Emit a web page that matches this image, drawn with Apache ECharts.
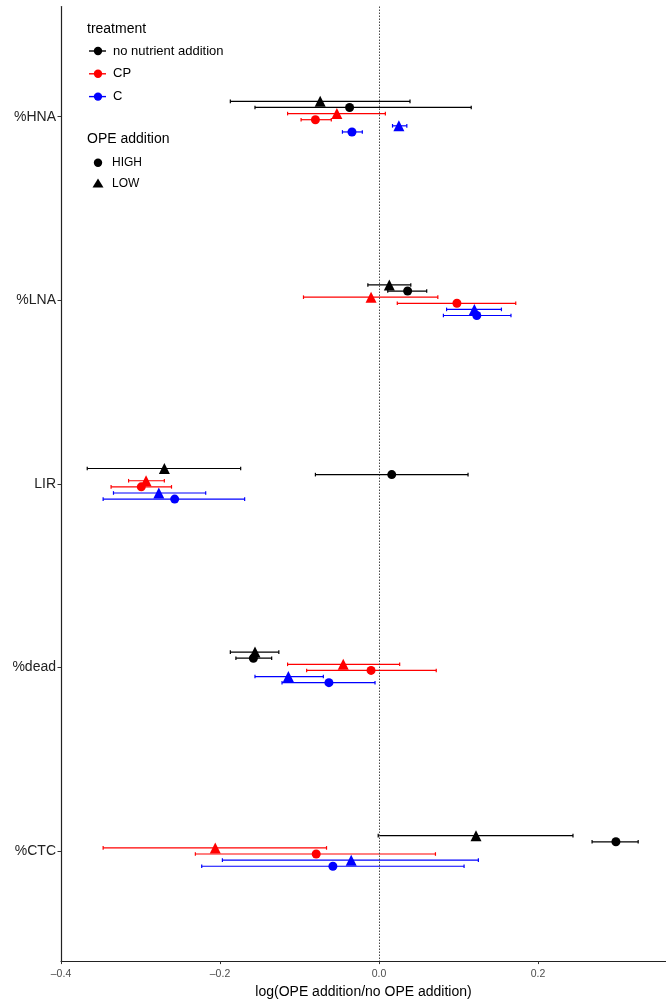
<!DOCTYPE html>
<html>
<head>
<meta charset="utf-8">
<script src="https://cdn.jsdelivr.net/npm/echarts@6/dist/echarts.min.js"></script>
<style>
html,body{margin:0;padding:0;background:#fff;overflow:hidden;}
#chart{width:666px;height:1004px;}
</style>
</head>
<body>
<div id="chart"></div>
<script>
// ---- Data ----
var categories = ['%HNA', '%LNA', 'LIR', '%dead', '%CTC'];
var treatments = ['no nutrient addition', 'CP', 'C'];
var opeLevels = ['HIGH', 'LOW'];
var xTicks = [-0.4, -0.2, 0.0, 0.2];

var noNutLowMean  = [-0.074, 0.013, -0.270, -0.156, 0.122];
var noNutLowLo    = [-0.187, -0.014, -0.367, -0.187, -0.001];
var noNutLowHi    = [0.039, 0.040, -0.174, -0.126, 0.244];
var noNutHighMean = [-0.037, 0.036, 0.016, -0.158, 0.298];
var noNutHighLo   = [-0.156, 0.011, -0.080, -0.180, 0.268];
var noNutHighHi   = [0.116, 0.060, 0.112, -0.135, 0.326];

var cpLowMean  = [-0.053, -0.010, -0.293, -0.045, -0.206];
var cpLowLo    = [-0.115, -0.095, -0.315, -0.115, -0.347];
var cpLowHi    = [0.008, 0.074, -0.270, 0.026, -0.066];
var cpHighMean = [-0.080, 0.098, -0.299, -0.010, -0.079];
var cpHighLo   = [-0.098, 0.023, -0.337, -0.091, -0.231];
var cpHighHi   = [-0.060, 0.172, -0.261, 0.072, 0.071];

var cLowMean  = [0.025, 0.120, -0.277, -0.114, -0.035];
var cLowLo    = [0.017, 0.085, -0.334, -0.156, -0.197];
var cLowHi    = [0.035, 0.154, -0.218, -0.070, 0.125];
var cHighMean = [-0.034, 0.123, -0.257, -0.063, -0.058];
var cHighLo   = [-0.046, 0.081, -0.347, -0.122, -0.223];
var cHighHi   = [-0.021, 0.166, -0.169, -0.005, 0.107];

// ---- Build ----
var colors = {'no nutrient addition': '#000000', 'CP': '#FF0000', 'C': '#0000FF'};
var groups = [
  {t: 'no nutrient addition', o: 'LOW',  m: noNutLowMean,  lo: noNutLowLo,  hi: noNutLowHi},
  {t: 'no nutrient addition', o: 'HIGH', m: noNutHighMean, lo: noNutHighLo, hi: noNutHighHi},
  {t: 'CP', o: 'LOW',  m: cpLowMean,  lo: cpLowLo,  hi: cpLowHi},
  {t: 'CP', o: 'HIGH', m: cpHighMean, lo: cpHighLo, hi: cpHighHi},
  {t: 'C', o: 'LOW',  m: cLowMean,  lo: cLowLo,  hi: cLowHi},
  {t: 'C', o: 'HIGH', m: cHighMean, lo: cHighLo, hi: cHighHi}
];
var dodge = 0.2;
var series = [];
groups.forEach(function (g, gi) {
  var off = (gi - 2.5) * dodge / groups.length;
  var col = colors[g.t];
  var ebData = categories.map(function (c, ci) { return [g.lo[ci], g.hi[ci], ci + 1 + off]; });
  series.push({
    type: 'custom',
    name: g.t + ' ' + g.o + ' err',
    silent: true,
    z: 2,
    data: ebData,
    encode: {x: [0, 1], y: 2},
    renderItem: function (params, api) {
      var p1 = api.coord([api.value(0), api.value(2)]);
      var p2 = api.coord([api.value(1), api.value(2)]);
      var h = 1.8;
      var st = {stroke: col, lineWidth: 1.2};
      return {
        type: 'group',
        children: [
          {type: 'line', shape: {x1: p1[0], y1: p1[1], x2: p2[0], y2: p2[1]}, style: st},
          {type: 'line', shape: {x1: p1[0], y1: p1[1] - h, x2: p1[0], y2: p1[1] + h}, style: st},
          {type: 'line', shape: {x1: p2[0], y1: p2[1] - h, x2: p2[0], y2: p2[1] + h}, style: st}
        ]
      };
    }
  });
  series.push({
    type: 'scatter',
    name: g.t + ' ' + g.o,
    z: 3,
    symbol: g.o === 'HIGH' ? 'circle' : 'triangle',
    symbolSize: g.o === 'HIGH' ? 9 : 11,
    itemStyle: {color: col, opacity: 1},
    data: categories.map(function (c, ci) { return [g.m[ci], ci + 1 + off]; })
  });
});
// dotted zero line
series.push({
  type: 'line', data: [], silent: true,
  markLine: {
    silent: true, symbol: ['none', 'none'], label: {show: false},
    lineStyle: {type: [1.5, 1.5], color: '#333', width: 0.9},
    data: [{xAxis: 0}]
  }
});

// legend graphic
var font = '"Liberation Sans", Arial, Helvetica, sans-serif';
var legendG = [];
legendG.push({type: 'text', left: 87, top: 22, style: {text: 'treatment', font: '14px ' + font, fill: '#000'}});
treatments.forEach(function (t, i) {
  var y = 51 + i * 22.8;
  legendG.push({type: 'line', shape: {x1: 89, y1: y, x2: 106, y2: y}, style: {stroke: colors[t], lineWidth: 1.4}});
  legendG.push({type: 'circle', shape: {cx: 98, cy: y, r: 4.2}, style: {fill: colors[t]}});
  legendG.push({type: 'text', x: 113, y: y, style: {text: t, font: '13px ' + font, fill: '#000', textVerticalAlign: 'middle'}});
});
legendG.push({type: 'text', left: 87, top: 132, style: {text: 'OPE addition', font: '14px ' + font, fill: '#000'}});
opeLevels.forEach(function (o, i) {
  var y = 162.7 + i * 20.8;
  if (o === 'HIGH') {
    legendG.push({type: 'circle', shape: {cx: 98, cy: y, r: 4.2}, style: {fill: '#000'}});
  } else {
    legendG.push({type: 'polygon', shape: {points: [[98, y - 5], [103.5, y + 4], [92.5, y + 4]]}, style: {fill: '#000'}});
  }
  legendG.push({type: 'text', x: 112, y: y, style: {text: o, font: '12px ' + font, fill: '#000', textVerticalAlign: 'middle'}});
});

var chart = echarts.init(document.getElementById('chart'), null, {renderer: 'canvas'});
chart.setOption({
  animation: false,
  backgroundColor: '#fff',
  textStyle: {fontFamily: font},
  grid: {left: 61, right: 0, top: 6.5, bottom: 38, containLabel: false},
  xAxis: {
    type: 'value', min: -0.4, max: 0.361,
    splitLine: {show: false},
    axisLine: {show: true, onZero: false, lineStyle: {color: '#222', width: 1.2}},
    axisTick: {show: true, length: 3, lineStyle: {color: '#333'}, customValues: xTicks},
    axisLabel: {color: '#4d4d4d', fontSize: 10.5, margin: 8, customValues: xTicks,
      formatter: function (v) { return v.toFixed(1).replace('-', '\u2013'); }},
    name: 'log(OPE addition/no OPE addition)',
    nameLocation: 'middle', nameGap: 23,
    nameTextStyle: {color: '#000', fontSize: 14}
  },
  yAxis: {
    type: 'value', min: 0.4, max: 5.6, inverse: true,
    splitLine: {show: false},
    axisLine: {show: true, onZero: false, lineStyle: {color: '#222', width: 1.2}},
    axisTick: {show: true, length: 3.5, lineStyle: {color: '#333'}, customValues: [1, 2, 3, 4, 5]},
    axisLabel: {color: '#222', fontSize: 14, margin: 5, customValues: [1, 2, 3, 4, 5],
      formatter: function (v) { return categories[Math.round(v) - 1] || ''; }}
  },
  graphic: legendG,
  series: series
});
</script>
</body>
</html>
